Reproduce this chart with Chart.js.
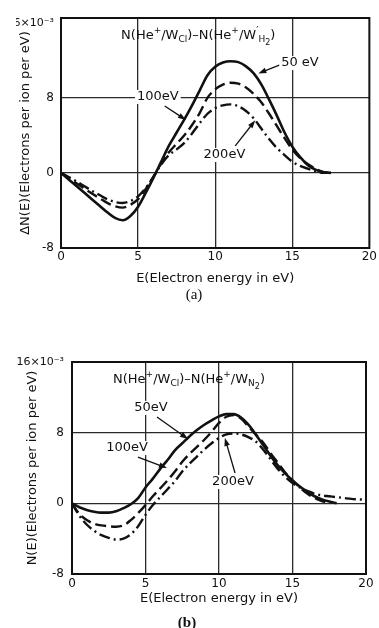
<!DOCTYPE html>
<html>
<head>
<meta charset="utf-8">
<script src="https://cdn.jsdelivr.net/npm/chart.js@4"></script>
<style>
  html, body { margin: 0; padding: 0; background: #fff; }
  body { width: 379px; height: 628px; position: relative; overflow: hidden; }
  .panel { position: absolute; left: 0; width: 379px; }
  #panelA { top: 0; height: 310px; }
  #panelB { top: 310px; height: 318px; }
</style>
</head>
<body>
<div class="panel" id="panelA"><canvas id="chartA"></canvas></div>
<div class="panel" id="panelB"><canvas id="chartB"></canvas></div>
<script>
// values, units of 1e-3 electrons per ion per eV
const energyA = [0,0.5,1,1.5,2,2.5,3,3.5,4,4.5,5,5.5,6,6.5,7,7.5,8,8.5,9,9.5,10,10.5,11,11.5,12,12.5,13,13.5,14,14.5,15,15.5,16,16.5,17,17.5];
const a50eV  = [0,-0.7,-1.4,-2.1,-2.8,-3.5,-4.2,-4.8,-5.05,-4.6,-3.6,-2.1,-0.5,1.2,2.9,4.3,5.7,7.2,8.8,10.4,11.3,11.75,11.9,11.8,11.35,10.6,9.4,7.8,6.1,4.3,2.8,1.7,0.85,0.35,0.08,0];
const a100eV = [0,-0.55,-1.1,-1.65,-2.2,-2.7,-3.2,-3.55,-3.7,-3.4,-2.8,-1.7,-0.4,1.0,2.2,3.1,4.0,5.1,6.4,8.0,8.9,9.4,9.6,9.5,9.1,8.4,7.5,6.3,5.0,3.7,2.5,1.6,0.95,0.45,0.1,0];
const a200eV = [0,-0.45,-0.9,-1.4,-1.9,-2.35,-2.8,-3.1,-3.2,-3.0,-2.5,-1.6,-0.4,0.9,1.9,2.5,3.2,4.2,5.3,6.3,6.9,7.2,7.3,7.1,6.6,5.8,4.7,3.6,2.65,1.9,1.2,0.75,0.45,0.2,0,0];

const energyB = [0,0.5,1,1.5,2,2.5,3,3.5,4,4.5,5,5.5,6,6.5,7,7.5,8,8.5,9,9.5,10,10.5,11,11.5,12,12.5,13,13.5,14,14.5,15,15.5,16,16.5,17,17.5,18,18.5,19,19.5,20];
const b50eV  = [0,-0.45,-0.75,-0.95,-1.05,-1.05,-0.9,-0.55,-0.1,0.6,1.8,2.8,3.9,4.9,6.0,6.8,7.6,8.3,8.9,9.4,9.85,10.1,10.1,9.7,8.9,7.8,6.6,5.4,4.3,3.4,2.6,1.9,1.3,0.8,0.45,0.2,0,null,null,null,null];
const b100eV = [0,-1.2,-1.9,-2.3,-2.5,-2.6,-2.65,-2.5,-1.9,-1.1,-0.2,0.8,1.7,2.6,3.6,4.7,5.6,6.4,7.2,8.1,9.1,9.8,10.0,9.6,8.7,7.8,6.9,5.7,4.6,3.5,2.6,1.8,1.1,0.6,0.25,0,null,null,null,null,null];
const b200eV = [0,-1.4,-2.4,-3.1,-3.6,-3.9,-4.1,-4.0,-3.5,-2.6,-1.3,-0.2,0.7,1.6,2.5,3.6,4.5,5.3,6.1,6.8,7.4,7.8,7.9,7.8,7.5,7.0,6.1,5.0,3.9,3.0,2.3,1.8,1.4,1.1,0.9,0.8,0.7,0.6,0.5,0.45,0.4];

const xTicks = [0, 5, 10, 15, 20];
const yTicks = [-8, 0, 8, 16];
const yGrid = [0, 8];

const ink = '#111';
const sans = '"DejaVu Sans", sans-serif';
Chart.defaults.font.family = sans;
Chart.defaults.color = ink;

function arrowLine(ctx, x1, y1, x2, y2) {
    const ang = Math.atan2(y2 - y1, x2 - x1);
    const len = 8, half = 2.8;
    const c = Math.cos(ang), s = Math.sin(ang);
    ctx.beginPath();
    ctx.moveTo(x1, y1);
    ctx.lineTo(x2 - c * len * 0.7, y2 - s * len * 0.7);
    ctx.stroke();
    ctx.beginPath();
    ctx.moveTo(x2, y2);
    ctx.lineTo(x2 - len * c + half * s, y2 - len * s - half * c);
    ctx.lineTo(x2 - len * c - half * s, y2 - len * s + half * c);
    ctx.closePath();
    ctx.fill();
}

// text with sub/superscripts: [text, scale, dy]
function richText(ctx, parts, cx, cy, size) {
    let total = 0;
    const pieces = parts.map(([t, k = 1, dy = 0]) => {
        const font = Math.round(size * k) + 'px ' + sans;
        ctx.font = font;
        const w = ctx.measureText(t).width;
        total += w;
        return { t, font, dy, w };
    });
    let x = cx - total / 2;
    ctx.textAlign = 'left';
    ctx.textBaseline = 'middle';
    pieces.forEach(p => {
        ctx.font = p.font;
        ctx.fillText(p.t, x, cy + p.dy);
        x += p.w;
    });
}

function paperPlugin(headline, notes, caption) {
    return {
        id: 'paper',
        afterDraw(chart) {
            const { ctx, chartArea: a } = chart;
            const sx = chart.scales.x, sy = chart.scales.y;
            ctx.save();
            ctx.strokeStyle = ink;
            ctx.fillStyle = ink;
            ctx.lineWidth = 2;
            ctx.strokeRect(a.left, a.top, a.right - a.left, a.bottom - a.top);

            richText(ctx, headline.parts, sx.getPixelForValue(headline.at[0]), sy.getPixelForValue(headline.at[1]), 12.5);

            notes.forEach(n => {
                ctx.lineWidth = 1.3;
                ctx.fillStyle = ink;
                arrowLine(ctx,
                    sx.getPixelForValue(n.from[0]), sy.getPixelForValue(n.from[1]),
                    sx.getPixelForValue(n.to[0]), sy.getPixelForValue(n.to[1]));
                const tx = sx.getPixelForValue(n.at[0]), ty = sy.getPixelForValue(n.at[1]);
                ctx.font = '13px ' + sans;
                const w = ctx.measureText(n.text).width;
                ctx.fillStyle = '#fff';
                ctx.fillRect(tx - w / 2 - 2, ty - 7, w + 4, 14);
                ctx.fillStyle = ink;
                ctx.textAlign = 'center';
                ctx.textBaseline = 'middle';
                ctx.fillText(n.text, tx, ty);
            });

            ctx.font = caption.font;
            ctx.textAlign = 'center';
            ctx.textBaseline = 'middle';
            ctx.fillText(caption.text, caption.x, caption.y);
            ctx.restore();
        }
    };
}

function makeChart(canvasId, cfg) {
    const line = (data, dash, width) => ({
        data: data.map((v, i) => ({ x: cfg.energy[i], y: v })),
        borderColor: ink,
        borderWidth: width,
        borderDash: dash,
        pointRadius: 0,
        cubicInterpolationMode: 'monotone',
        spanGaps: false
    });
    return new Chart(document.getElementById(canvasId), {
        type: 'line',
        data: {
            datasets: [
                line(cfg.series[0], [], 2.6),
                line(cfg.series[1], [11, 5], 2.4),
                line(cfg.series[2], [11, 4, 2, 4], 2.4)
            ]
        },
        options: {
            responsive: true,
            maintainAspectRatio: false,
            animation: false,
            layout: { padding: cfg.padding },
            plugins: { legend: { display: false }, tooltip: { enabled: false } },
            scales: {
                x: {
                    type: 'linear',
                    min: 0,
                    max: 20,
                    afterBuildTicks: s => { s.ticks = xTicks.map(v => ({ value: v })); },
                    afterFit: s => { s.height = cfg.xHeight; },
                    border: { display: false },
                    grid: {
                        drawTicks: false,
                        lineWidth: 1.3,
                        color: c => (c.tick && c.tick.value > 0 && c.tick.value < 20) ? '#2a2a2a' : 'rgba(0,0,0,0)'
                    },
                    ticks: { padding: cfg.xPad, font: { size: 12 }, color: ink, maxRotation: 0 },
                    title: { display: true, text: 'E(Electron energy in eV)', font: { size: 13 }, color: ink }
                },
                y: {
                    min: -8,
                    max: cfg.yMax,
                    afterBuildTicks: s => { s.ticks = yTicks.map(v => ({ value: v })); },
                    afterFit: s => { s.width = cfg.yWidth; },
                    border: { display: false },
                    grid: {
                        drawTicks: false,
                        lineWidth: 1.3,
                        color: c => (c.tick && yGrid.includes(c.tick.value)) ? '#2a2a2a' : 'rgba(0,0,0,0)'
                    },
                    ticks: {
                        padding: cfg.yPad,
                        font: c => ({ size: c.tick && c.tick.value === 16 ? 11 : 12 }),
                        color: ink,
                        callback: v => v === 16 ? '16×10⁻³' : String(v)
                    },
                    title: { display: true, text: cfg.yTitle, font: { size: 13 }, color: ink, padding: { top: cfg.yTitlePad, bottom: 0 } }
                }
            }
        },
        plugins: [paperPlugin(cfg.headline, cfg.notes, cfg.caption)]
    });
}

makeChart('chartA', {
    energy: energyA,
    series: [a50eV, a100eV, a200eV],
    yMax: 16.5,
    yWidth: 45,
    yTitlePad: 2,
    xHeight: 42,
    xPad: 2,
    yPad: 7,
    padding: { left: 16, right: 6, top: 18, bottom: 20 },
    yTitle: 'ΔN(E)(Electrons per ion per eV)',
    headline: {
        at: [8.9, 14.6],
        parts: [['N(He'], ['+', 0.7, -5], ['/W'], ['Cl', 0.75, 4], [')–N(He'], ['+', 0.7, -5], ['/W'], ['′', 0.8, -4], ['H', 0.75, 4], ['2', 0.6, 7], [')']]
    },
    notes: [
        { text: '50 eV', at: [15.5, 11.7], from: [14.2, 11.5], to: [12.8, 10.6] },
        { text: '100eV', at: [6.28, 8.09], from: [6.73, 7.13], to: [8.1, 5.64] },
        { text: '200eV', at: [10.6, 1.91], from: [11.3, 2.87], to: [12.6, 5.6] }
    ],
    caption: { text: '(a)', x: 194, y: 295, font: '15px "Liberation Serif", serif' }
});

makeChart('chartB', {
    energy: energyB,
    series: [b50eV, b100eV, b200eV],
    yMax: 16,
    yWidth: 72,
    yTitlePad: 25,
    xHeight: 36,
    xPad: 3,
    yPad: 8,
    padding: { left: 0, right: 13, top: 52, bottom: 18 },
    yTitle: 'N(E)(Electrons per ion per eV)',
    headline: {
        at: [7.96, 13.96],
        parts: [['N(He'], ['+', 0.7, -5], ['/W'], ['Cl', 0.75, 4], [')–N(He'], ['+', 0.7, -5], ['/W'], ['N', 0.75, 4], ['2', 0.6, 7], [')']]
    },
    notes: [
        { text: '50eV', at: [5.37, 10.8], from: [5.78, 9.77], to: [7.89, 7.28] },
        { text: '100eV', at: [3.74, 6.26], from: [4.49, 5.24], to: [6.46, 4.0] },
        { text: '200eV', at: [10.95, 2.41], from: [11.09, 3.43], to: [10.4, 7.4] }
    ],
    caption: { text: '(b)', x: 187, y: 313, font: 'bold 15px "Liberation Serif", serif' }
});
</script>
</body>
</html>
